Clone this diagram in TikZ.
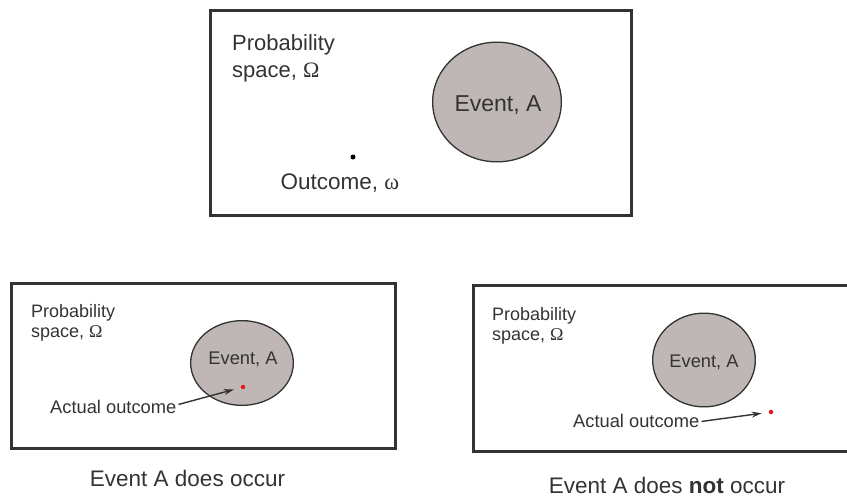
\documentclass[tikz,border=0pt]{standalone}
\usepackage{fontspec}
\setmainfont{Liberation Sans}
\newfontfamily\greekfont{Liberation Serif}
\usepackage{tikz}
\usetikzlibrary{arrows.meta,shapes.geometric,positioning}
\usepackage{xcolor}
\definecolor{inkgray}{HTML}{333333}
\definecolor{eventgray}{HTML}{BFB7B5}
\definecolor{dotred}{HTML}{E8141C}

\begin{document}
\begin{tikzpicture}[x=1pt,y=-1pt,
				every node/.style={text=inkgray, inner sep=0pt},
				spacebox/.style={draw=inkgray, line width=3pt, rectangle},
				eventdisk/.style={draw=inkgray, fill=eventgray, line width=1.3pt, ellipse},
				outdot/.style={circle, fill=#1, minimum size=4.5pt},
				pointer/.style={-{Stealth[length=10pt,width=6pt]}, line width=1.4pt, draw=inkgray, shorten >=7pt}]
			\useasboundingbox (0,0) rectangle (847,498);
			% the whole space
			\node[spacebox, minimum width=421pt, minimum height=205pt] (omegatop) at (421,113) {};
			\node[eventdisk, minimum width=128.7pt, minimum height=119.7pt] (eventtop) at (497,102) {};
			\node[font=\fontsize{23}{26}\selectfont, anchor=base] (eventtoplbl) at (498,111) {Event, A};
			\node[font=\fontsize{22}{27}\selectfont, align=left, anchor=north west] (spacetoplbl) at (232,34)
				{Probability\\space, {\greekfont Ω}};
			\node[outdot=black, minimum size=5pt] (outdottop) at (353,157) {};
			\node[font=\fontsize{22.5}{26}\selectfont, anchor=base] (outtoplbl) at (340,189) {Outcome, {\greekfont ω}};
			% event occurs
			\node[spacebox, minimum width=384pt, minimum height=165pt] (omegaleft) at (203.5,366) {};
			\node[eventdisk, minimum width=102.7pt, minimum height=84.7pt] (eventleft) at (242,363) {};
			\node[font=\fontsize{18.3}{21}\selectfont, anchor=base] (eventleftlbl) at (243,364) {Event, A};
			\node[font=\fontsize{18}{20}\selectfont, align=left, anchor=north west] (spaceleftlbl) at (31,304)
				{Probability\\space, {\greekfont Ω}};
			\node[outdot=dotred] (dotleft) at (243,387) {};
			\node[font=\fontsize{18.3}{21}\selectfont, anchor=base west] (actleft) at (50,413) {Actual outcome};
			\draw[pointer] ([xshift=2pt,yshift=2pt]actleft.east) -- (dotleft);
			\node[font=\fontsize{22.5}{26}\selectfont, anchor=base] (capleft) at (187.5,486) {Event A does occur};
			% event does not occur
			\node[spacebox, minimum width=396.5pt, minimum height=166pt] (omegaright) at (671.75,368.5) {};
			\node[eventdisk, minimum width=102.7pt, minimum height=93.7pt] (eventright) at (704,360) {};
			\node[font=\fontsize{18.3}{21}\selectfont, anchor=base] (eventrightlbl) at (704,367) {Event, A};
			\node[font=\fontsize{18}{20}\selectfont, align=left, anchor=north west] (spacerightlbl) at (492,307)
				{Probability\\space, {\greekfont Ω}};
			\node[outdot=dotred] (dotright) at (771,412) {};
			\node[font=\fontsize{18.3}{21}\selectfont, anchor=base west] (actright) at (573,427) {Actual outcome};
			\draw[pointer] ([xshift=2pt,yshift=-1pt]actright.east) -- (dotright);
			\node[font=\fontsize{22.5}{26}\selectfont, anchor=base] (capright) at (667,493) {Event A does \textbf{not} occur};
		\end{tikzpicture}
\end{document}
